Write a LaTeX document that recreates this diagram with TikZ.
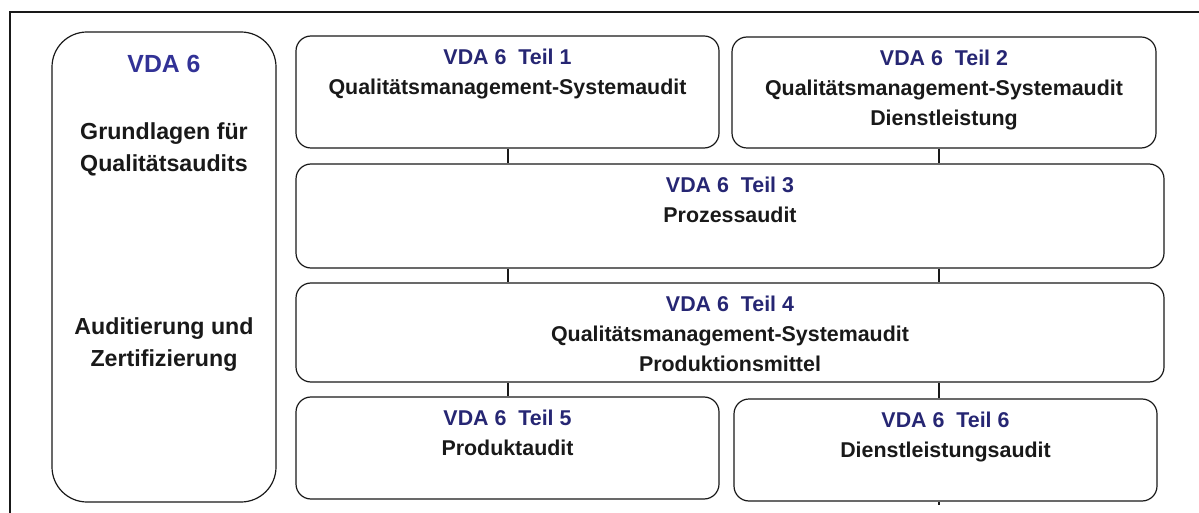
\documentclass[tikz,border=0pt]{standalone}
\usepackage{fontspec}
\setmainfont{Liberation Sans}
\usepackage{tikz}
\usetikzlibrary{positioning}
\definecolor{vdablue}{RGB}{50,50,150}
\definecolor{teilblue}{RGB}{38,38,115}
\newcommand{\teil}[2]{{\color{teilblue}VDA 6\ \ Teil #1}\\#2}
\begin{document}
\begin{tikzpicture}[x=0.5pt, y=-0.5pt, font=\bfseries]
		\tikzset{part/.style={draw=black!90, line width=0.6pt, rounded corners=7.5pt, inner sep=0, minimum width=211.5pt, minimum height=51pt}}
		\tikzset{wide/.style={part, minimum width=434pt}}
		\tikzset{parttext/.style={anchor=north, inner sep=0, align=center, font=\bfseries\fontsize{10.7}{15}\selectfont, text=black!90, yshift=-6.75pt}}
		\tikzset{sidetext/.style={inner sep=0, align=center, font=\bfseries\fontsize{11.6}{16}\selectfont, text=black!90}}
		\tikzset{link/.style={draw=black!90, line width=1pt}}
		\useasboundingbox (0,0) rectangle (1199,513);
		\draw[black!90, line width=0.9pt] (10,513) -- (10,12) -- (1199,12);
		\node[part, rounded corners=17.5pt, minimum width=112pt, minimum height=235pt] at (164, 267) (vda) {};
		\node[part, minimum height=56pt] at (507.5, 92) (t1) {};
		\node[part, minimum width=212pt, minimum height=55.5pt] at (944, 92.5) (t2) {};
		\node[wide, minimum height=52pt] at (730, 216) (t3) {};
		\node[wide, minimum height=49.5pt] at (730, 332.5) (t4) {};
		\node[part] at (507.5, 448) (t5) {};
		\node[part] at (945.5, 450) (t6) {};
		\coordinate (stub) at (939, 505);
		\node[sidetext, anchor=north, yshift=-11.5pt, font=\bfseries\fontsize{12.4}{15}\selectfont, text=vdablue] at (vda.north) (vdatitle) {VDA 6};
		\node[sidetext] at (164, 149) (basics) {Grundlagen für\\Qualitätsaudits};
		\node[sidetext] at (164, 345) (certs) {Auditierung und\\Zertifizierung};
		\node[parttext] at (t1.north) (t1text) {\teil{1}{Qualitätsmanagement-Systemaudit}};
		\node[parttext] at (t2.north) (t2text) {\teil{2}{Qualitätsmanagement-Systemaudit\\Dienstleistung}};
		\node[parttext] at (t3.north) (t3text) {\teil{3}{Prozessaudit}};
		\node[parttext] at (t4.north) (t4text) {\teil{4}{Qualitätsmanagement-Systemaudit\\Produktionsmittel}};
		\node[parttext] at (t5.north) (t5text) {\teil{5}{Produktaudit}};
		\node[parttext] at (t6.north) (t6text) {\teil{6}{Dienstleistungsaudit}};
		\draw[link] (t1.south) -- (t1.south |- t3.north);
		\draw[link] (stub |- t2.south) -- (stub |- t3.north);
		\draw[link] (t1.south |- t3.south) -- (t1.south |- t4.north);
		\draw[link] (stub |- t3.south) -- (stub |- t4.north);
		\draw[link] (t1.south |- t4.south) -- (t5.north);
		\draw[link] (stub |- t4.south) -- (stub |- t6.north);
		\draw[link] (stub |- t6.south) -- (stub);
	\end{tikzpicture}
\end{document}
